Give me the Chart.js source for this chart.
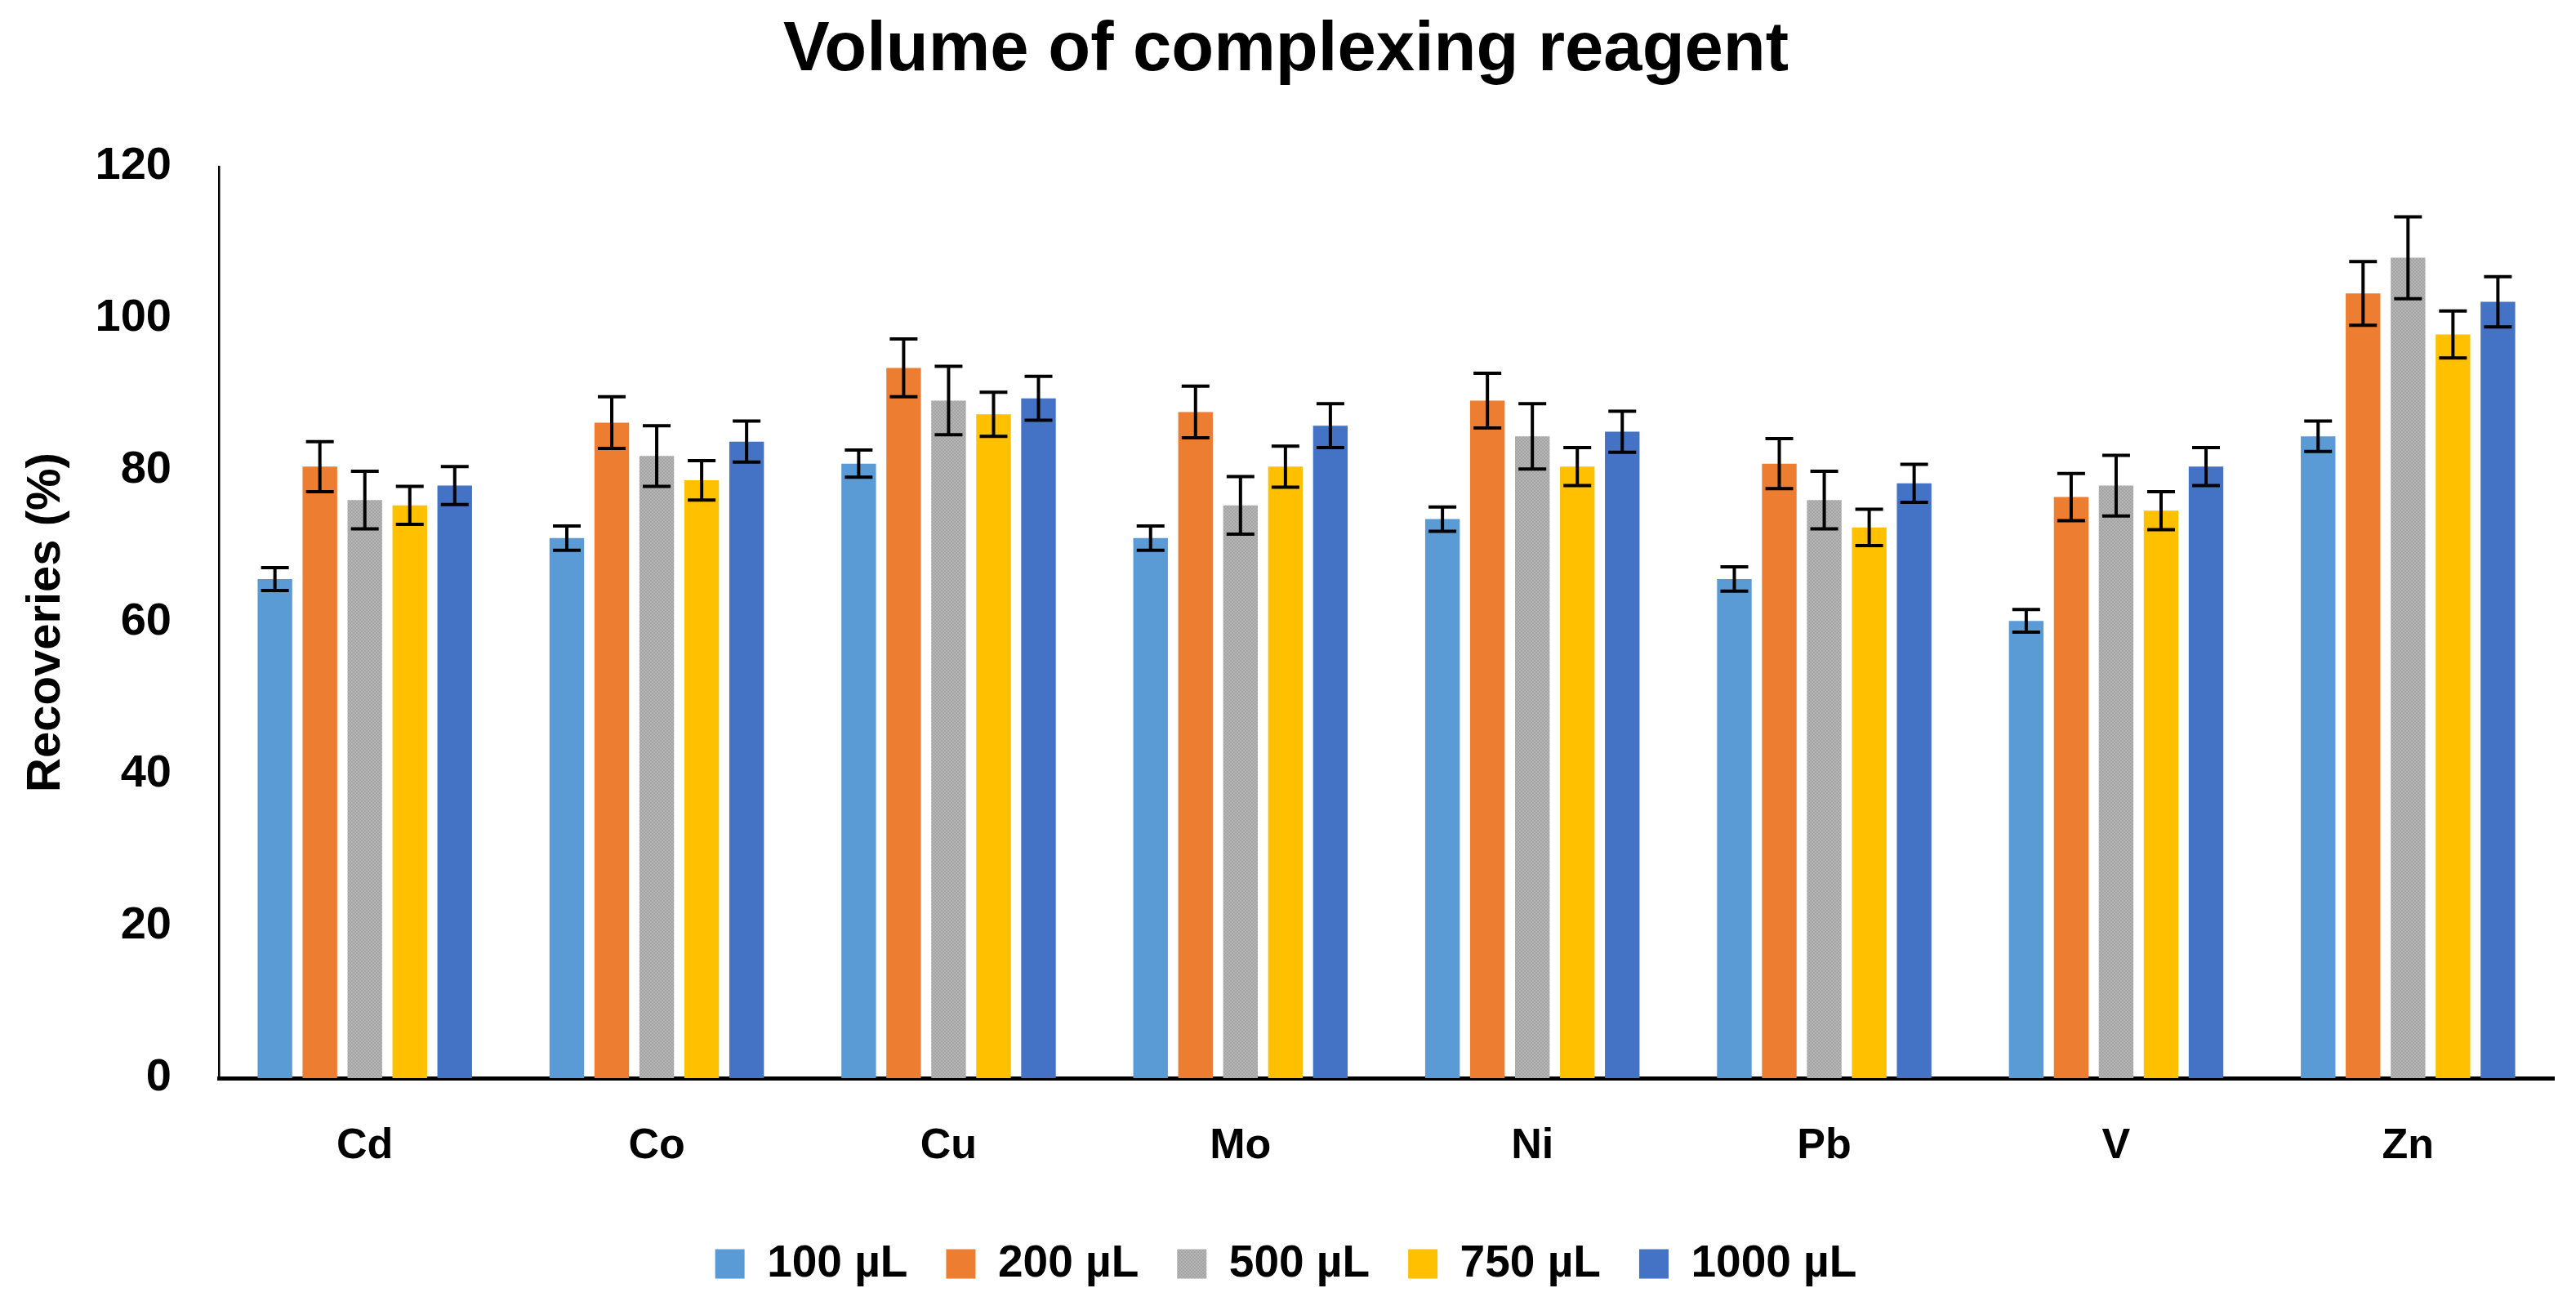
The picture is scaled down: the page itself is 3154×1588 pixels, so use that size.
<!DOCTYPE html>
<html>
<head>
<meta charset="utf-8">
<script src="https://cdn.jsdelivr.net/npm/chart.js@4.4.0/dist/chart.umd.min.js"></script>
<style>
  body { margin: 0; background: #fff; }
  canvas { display: block; }
</style>
</head>
<body>
<canvas id="myChart" width="3154" height="1588"></canvas>
<script>
// metals on the x axis
var metals = ["Cd", "Co", "Cu", "Mo", "Ni", "Pb", "V", "Zn"];
var volumes = ["100 µL", "200 µL", "500 µL", "750 µL", "1000 µL"];

// recoveries (%) per volume
var rec100  = [65.7, 71.1, 80.9, 71.1, 73.6, 65.7, 60.2, 84.5];
var rec200  = [80.5, 86.3, 93.5, 87.7, 89.2, 80.9, 76.5, 103.3];
var rec500  = [76.1, 81.9, 89.2, 75.4, 84.5, 76.1, 78.0, 108.0];
var rec750  = [75.4, 78.7, 87.4, 80.5, 80.5, 72.5, 74.7, 97.9];
var rec1000 = [78.0, 83.8, 89.5, 85.9, 85.1, 78.3, 80.5, 102.2];

// error bar half lengths
var err100  = [1.5, 1.6, 1.8, 1.6, 1.6, 1.6, 1.5, 2.0];
var err200  = [3.3, 3.4, 3.8, 3.4, 3.6, 3.3, 3.1, 4.2];
var err500  = [3.8, 4.0, 4.5, 3.8, 4.3, 3.8, 4.0, 5.4];
var err750  = [2.5, 2.6, 2.9, 2.7, 2.5, 2.4, 2.5, 3.1];
var err1000 = [2.5, 2.7, 2.9, 2.9, 2.7, 2.5, 2.5, 3.3];

var yTicks = [0, 20, 40, 60, 80, 100, 120];

var colors = ["#5B9BD5", "#ED7D31", "#A5A5A5", "#FFC000", "#4472C4"];

function grayPattern() {
    var c = document.createElement("canvas");
    c.width = 4; c.height = 4;
    var g = c.getContext("2d");
    g.fillStyle = "#A5A5A5";
    g.fillRect(0, 0, 4, 4);
    g.fillStyle = "#B4B4B4";
    g.fillRect(0, 0, 2, 2);
    g.fillRect(2, 2, 2, 2);
    return g.createPattern(c, "repeat");
}

var errorBars = {
    id: "errorBars",
    afterDatasetsDraw: function(chart) {
        var ctx = chart.ctx;
        var yScale = chart.scales.y;
        ctx.save();
        ctx.strokeStyle = "#000";
        ctx.lineWidth = 4;
        chart.data.datasets.forEach(function(ds, i) {
            var meta = chart.getDatasetMeta(i);
            meta.data.forEach(function(bar, j) {
                var v = ds.data[j], e = ds.errors[j];
                var top = yScale.getPixelForValue(v + e);
                var bot = yScale.getPixelForValue(v - e);
                ctx.beginPath();
                ctx.moveTo(bar.x, top); ctx.lineTo(bar.x, bot);
                ctx.moveTo(bar.x - 17, top); ctx.lineTo(bar.x + 17, top);
                ctx.moveTo(bar.x - 17, bot); ctx.lineTo(bar.x + 17, bot);
                ctx.stroke();
            });
        });
        ctx.restore();
    }
};

var values = [rec100, rec200, rec500, rec750, rec1000];
var errors = [err100, err200, err500, err750, err1000];
var datasets = [];
for (var i = 0; i < volumes.length; i++) {
    datasets.push({
        label: volumes[i],
        data: values[i],
        errors: errors[i],
        backgroundColor: i == 2 ? grayPattern() : colors[i],
        borderWidth: 0,
        barPercentage: 0.77,
        categoryPercentage: 0.77
    });
}

var font = "'Liberation Sans', Arial, sans-serif";

myChart = new Chart("myChart", {
    type: "bar",
    data: { labels: metals, datasets: datasets },
    plugins: [errorBars],
    options: {
        responsive: false,
        devicePixelRatio: 1,
        animation: false,
        layout: { padding: { left: 22, right: 27, top: 0, bottom: 3 } },
        plugins: {
            title: {
                display: true,
                text: "Volume of complexing reagent",
                color: "#000",
                font: { family: font, size: 85, weight: "bold" },
                padding: { top: 12, bottom: 90 }
            },
            legend: {
                position: "bottom",
                labels: {
                    color: "#000",
                    font: { family: font, size: 55, weight: "bold" },
                    boxWidth: 36,
                    boxHeight: 36,
                    padding: 47
                }
            },
            tooltip: { enabled: false }
        },
        scales: {
            x: {
                grid: { display: false },
                border: { color: "#000", width: 5 },
                ticks: {
                    color: "#000",
                    padding: 44,
                    font: { family: font, size: 52, weight: "bold" }
                },
                afterFit: function(s) { s.height = 153; }
            },
            y: {
                min: 0,
                max: 120,
                afterBuildTicks: function(s) {
                    s.ticks = yTicks.map(function(v) { return { value: v }; });
                },
                grid: { display: false },
                border: { color: "#000", width: 2.5 },
                ticks: {
                    color: "#000",
                    padding: 50,
                    font: { family: font, size: 56, weight: "bold" }
                },
                title: {
                    display: true,
                    text: "Recoveries (%)",
                    color: "#000",
                    font: { family: font, size: 58, weight: "bold" },
                    padding: 0
                },
                afterFit: function(s) { s.width = 246; }
            }
        }
    }
});
</script>
</body>
</html>
